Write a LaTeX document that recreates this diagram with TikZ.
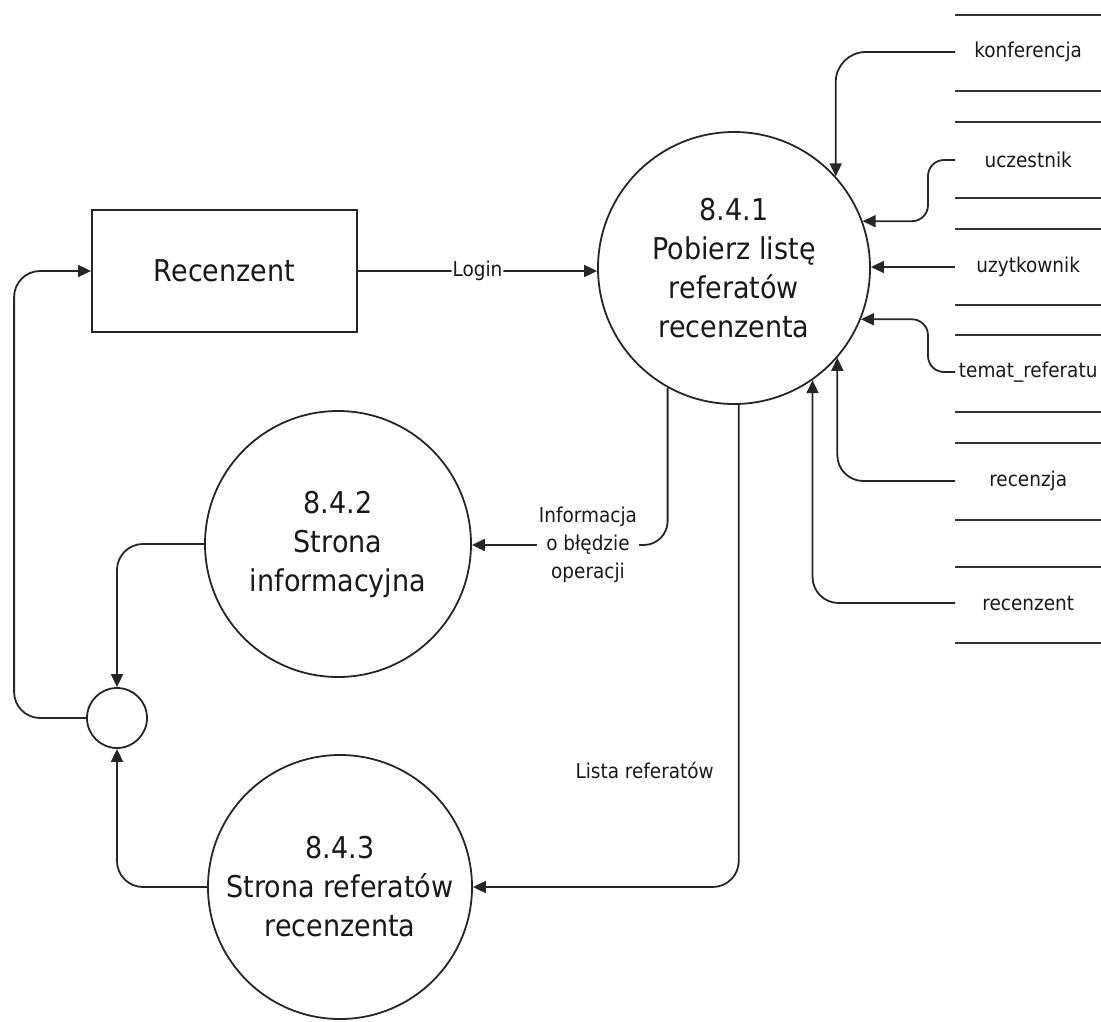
\documentclass[tikz,border=0pt]{standalone}
\usepackage{fontspec}
\setmainfont[FakeStretch=0.9]{DejaVu Sans}
\usetikzlibrary{arrows.meta}
\begin{document}
\begin{tikzpicture}[x=1pt,y=-1pt,
  ln/.style={draw=black!85, line width=1.8pt},
  arr/.style={ln, -{Triangle[length=13pt,width=12pt]}, rounded corners=26pt},
  proc/.style={circle, draw=black!85, line width=1.8pt, align=center,
    font=\fontsize{30}{39}\selectfont, text=black!90, inner sep=0pt},
  lbl/.style={font=\fontsize{20.5}{28}\selectfont, text=black!90, inner sep=2pt, align=center},
  store/.style={lbl, minimum width=146pt, inner xsep=0pt, anchor=west},
  storeline/.style={draw=black!80, line width=1.9pt}]
\useasboundingbox (0,0) rectangle (1101,1021);
\clip (0,0) rectangle (1101,1021);

% processes
\node[proc, minimum size=272pt] (p1) at (734,268) {8.4.1\\Pobierz listę\\referatów\\recenzenta};
\node[proc, minimum size=266pt] (p2) at (338,544) {8.4.2\\Strona\\informacyjna};
\node[proc, minimum size=264pt] (p3) at (340,887) {8.4.3\\Strona referatów\\recenzenta};
\node[circle, draw=black!85, line width=1.8pt, minimum size=60pt, inner sep=0pt] (j) at (117,718) {};
\node[rectangle, draw=black!85, line width=1.8pt, minimum width=265pt, minimum height=122pt,
  font=\fontsize{30}{39}\selectfont, text=black!90] (rec) at (224.5,271) {Recenzent};

% data stores
\foreach \y in {15,91,122,198,229,305,335,412,443,520,567,643}
  \draw[storeline] (955,\y) -- (1101,\y);
\node[store] (s1) at (955,52) {konferencja};
\node[store] (s2) at (955,160) {uczestnik};
\node[store] (s3) at (955,267) {uzytkownik};
\node[store] (s4) at (955,372) {temat\_referatu};
\node[store] (s5) at (955,481) {recenzja};
\node[store] (s6) at (955,603) {recenzent};

% store connectors
\draw[arr, rounded corners=30pt] (s1.west) -| (p1.42);
\draw[arr, rounded corners=16pt] (s2.west) -- ++(-27,0) |- (p1.20);
\draw[arr] (s3.west) -- (s3.west -| p1.east);
\draw[arr, rounded corners=16pt] (s4.west) -- ++(-27,0) |- (p1.-22);
\draw[arr] (s5.west) -| (p1.-41);
\draw[arr] (s6.west) -| (p1.-55);

% login
\draw[arr] (rec.east) -- node[lbl, fill=white, inner xsep=1pt] (login) {Login} (rec.east -| p1.west);

% error info
\node[lbl] (info) at (588,545) {Informacja\\o błędzie\\operacji};
\draw[ln, rounded corners=24pt] (p1.-119.5) |- (info.east);
\draw[arr] (info.west) -- (info.west -| p2.east);

% list
\node[lbl, anchor=east] (lista) at (716,770) {Lista referatów};
\draw[arr] (p1.-88) |- (p3.east);

% to junction and back
\draw[arr] (p2.west) -| (j.north);
\draw[arr] (p3.west) -| (j.south);
\draw[arr] (j.west) -- ++(-72,0) |- (rec.west);
\end{tikzpicture}
\end{document}
